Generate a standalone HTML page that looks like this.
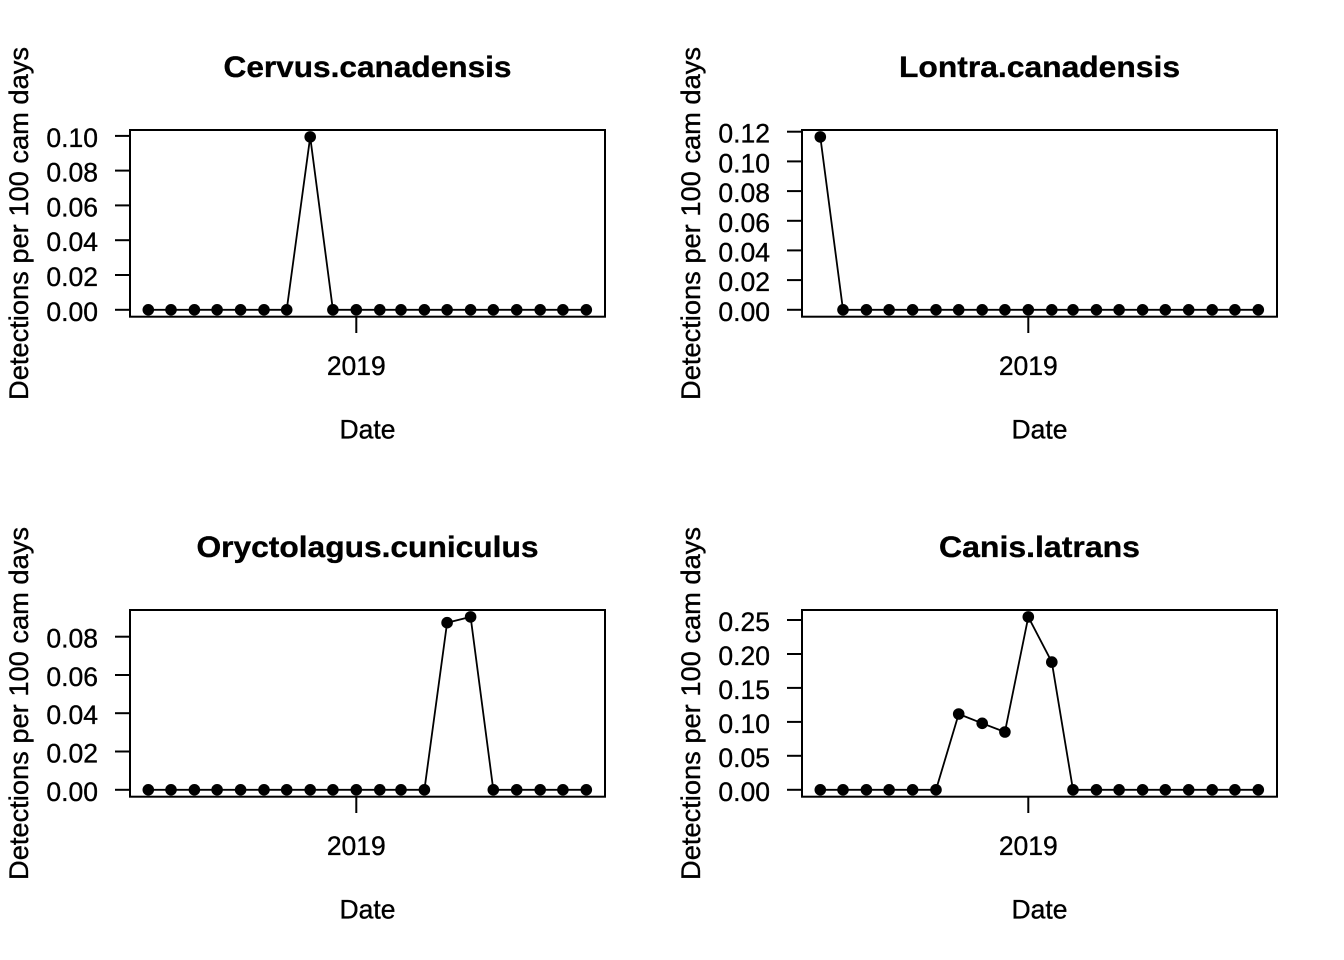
<!DOCTYPE html>
<html><head><meta charset="utf-8"><style>
html,body{margin:0;padding:0;background:#fff;}
svg{display:block;}
text{font-family:"Liberation Sans",Arial,sans-serif;fill:#000;stroke:#000;stroke-width:0.35;}
</style></head><body>
<svg width="1344" height="960" viewBox="0 0 1344 960" xmlns="http://www.w3.org/2000/svg">
<rect width="1344" height="960" fill="#fff"/>

<!-- Panel 1 -->
<g>
<text x="367.5" y="77" font-size="30" font-weight="bold" text-anchor="middle" textLength="288" lengthAdjust="spacingAndGlyphs">Cervus.canadensis</text>
<rect x="130" y="130" width="475" height="186.7" fill="none" stroke="#000" stroke-width="2"/>
<g stroke="#000" stroke-width="2">
<line x1="115" y1="309.8" x2="130" y2="309.8"/><line x1="115" y1="275.0" x2="130" y2="275.0"/><line x1="115" y1="240.2" x2="130" y2="240.2"/><line x1="115" y1="205.4" x2="130" y2="205.4"/><line x1="115" y1="170.6" x2="130" y2="170.6"/><line x1="115" y1="135.9" x2="130" y2="135.9"/>
<line x1="356.3" y1="316.7" x2="356.3" y2="333"/>
</g>
<g font-size="26.5" text-anchor="end">
<text x="98" y="320.8">0.00</text><text x="98" y="286">0.02</text><text x="98" y="251.2">0.04</text><text x="98" y="216.4">0.06</text><text x="98" y="181.6">0.08</text><text x="98" y="146.9">0.10</text>
</g>
<text x="356.3" y="375" font-size="26.5" text-anchor="middle">2019</text>
<text x="367.5" y="438.5" font-size="26.5" text-anchor="middle">Date</text>
<text transform="translate(28,223.5) rotate(-90)" font-size="26.5" text-anchor="middle" textLength="353" lengthAdjust="spacingAndGlyphs">Detections per 100 cam days</text>
<polyline fill="none" stroke="#000" stroke-width="1.8" points="148.3,309.8 171.0,309.8 194.4,309.8 217.1,309.8 240.6,309.8 264.0,309.8 286.7,309.8 310.2,136.9 332.9,309.8 356.3,309.8 379.8,309.8 401.0,309.8 424.4,309.8 447.1,309.8 470.6,309.8 493.3,309.8 516.7,309.8 540.2,309.8 562.9,309.8 586.3,309.8"/>
<g fill="#000">
<circle cx="148.3" cy="309.8" r="5.8"/><circle cx="171.0" cy="309.8" r="5.8"/><circle cx="194.4" cy="309.8" r="5.8"/><circle cx="217.1" cy="309.8" r="5.8"/><circle cx="240.6" cy="309.8" r="5.8"/><circle cx="264.0" cy="309.8" r="5.8"/><circle cx="286.7" cy="309.8" r="5.8"/><circle cx="310.2" cy="136.9" r="5.8"/><circle cx="332.9" cy="309.8" r="5.8"/><circle cx="356.3" cy="309.8" r="5.8"/><circle cx="379.8" cy="309.8" r="5.8"/><circle cx="401.0" cy="309.8" r="5.8"/><circle cx="424.4" cy="309.8" r="5.8"/><circle cx="447.1" cy="309.8" r="5.8"/><circle cx="470.6" cy="309.8" r="5.8"/><circle cx="493.3" cy="309.8" r="5.8"/><circle cx="516.7" cy="309.8" r="5.8"/><circle cx="540.2" cy="309.8" r="5.8"/><circle cx="562.9" cy="309.8" r="5.8"/><circle cx="586.3" cy="309.8" r="5.8"/>
</g>
</g>

<!-- Panel 2 -->
<g transform="translate(672,0)">
<text x="367.5" y="77" font-size="30" font-weight="bold" text-anchor="middle" textLength="281" lengthAdjust="spacingAndGlyphs">Lontra.canadensis</text>
<rect x="130" y="130" width="475" height="186.7" fill="none" stroke="#000" stroke-width="2"/>
<g stroke="#000" stroke-width="2">
<line x1="115" y1="309.8" x2="130" y2="309.8"/><line x1="115" y1="280.1" x2="130" y2="280.1"/><line x1="115" y1="250.4" x2="130" y2="250.4"/><line x1="115" y1="220.8" x2="130" y2="220.8"/><line x1="115" y1="191.1" x2="130" y2="191.1"/><line x1="115" y1="161.4" x2="130" y2="161.4"/><line x1="115" y1="131.7" x2="130" y2="131.7"/>
<line x1="356.3" y1="316.7" x2="356.3" y2="333"/>
</g>
<g font-size="26.5" text-anchor="end">
<text x="98" y="320.8">0.00</text><text x="98" y="291.1">0.02</text><text x="98" y="261.4">0.04</text><text x="98" y="231.8">0.06</text><text x="98" y="202.1">0.08</text><text x="98" y="172.4">0.10</text><text x="98" y="142.7">0.12</text>
</g>
<text x="356.3" y="375" font-size="26.5" text-anchor="middle">2019</text>
<text x="367.5" y="438.5" font-size="26.5" text-anchor="middle">Date</text>
<text transform="translate(28,223.5) rotate(-90)" font-size="26.5" text-anchor="middle" textLength="353" lengthAdjust="spacingAndGlyphs">Detections per 100 cam days</text>
<polyline fill="none" stroke="#000" stroke-width="1.8" points="148.3,136.9 171.0,309.8 194.4,309.8 217.1,309.8 240.6,309.8 264.0,309.8 286.7,309.8 310.2,309.8 332.9,309.8 356.3,309.8 379.8,309.8 401.0,309.8 424.4,309.8 447.1,309.8 470.6,309.8 493.3,309.8 516.7,309.8 540.2,309.8 562.9,309.8 586.3,309.8"/>
<g fill="#000">
<circle cx="148.3" cy="136.9" r="5.8"/><circle cx="171.0" cy="309.8" r="5.8"/><circle cx="194.4" cy="309.8" r="5.8"/><circle cx="217.1" cy="309.8" r="5.8"/><circle cx="240.6" cy="309.8" r="5.8"/><circle cx="264.0" cy="309.8" r="5.8"/><circle cx="286.7" cy="309.8" r="5.8"/><circle cx="310.2" cy="309.8" r="5.8"/><circle cx="332.9" cy="309.8" r="5.8"/><circle cx="356.3" cy="309.8" r="5.8"/><circle cx="379.8" cy="309.8" r="5.8"/><circle cx="401.0" cy="309.8" r="5.8"/><circle cx="424.4" cy="309.8" r="5.8"/><circle cx="447.1" cy="309.8" r="5.8"/><circle cx="470.6" cy="309.8" r="5.8"/><circle cx="493.3" cy="309.8" r="5.8"/><circle cx="516.7" cy="309.8" r="5.8"/><circle cx="540.2" cy="309.8" r="5.8"/><circle cx="562.9" cy="309.8" r="5.8"/><circle cx="586.3" cy="309.8" r="5.8"/>
</g>
</g>

<!-- Panel 3 -->
<g transform="translate(0,480)">
<text x="367.5" y="77" font-size="30" font-weight="bold" text-anchor="middle" textLength="342" lengthAdjust="spacingAndGlyphs">Oryctolagus.cuniculus</text>
<rect x="130" y="130" width="475" height="186.7" fill="none" stroke="#000" stroke-width="2"/>
<g stroke="#000" stroke-width="2">
<line x1="115" y1="309.8" x2="130" y2="309.8"/><line x1="115" y1="271.5" x2="130" y2="271.5"/><line x1="115" y1="233.2" x2="130" y2="233.2"/><line x1="115" y1="195.0" x2="130" y2="195.0"/><line x1="115" y1="156.7" x2="130" y2="156.7"/>
<line x1="356.3" y1="316.7" x2="356.3" y2="333"/>
</g>
<g font-size="26.5" text-anchor="end">
<text x="98" y="320.8">0.00</text><text x="98" y="282.5">0.02</text><text x="98" y="244.2">0.04</text><text x="98" y="206">0.06</text><text x="98" y="167.7">0.08</text>
</g>
<text x="356.3" y="375" font-size="26.5" text-anchor="middle">2019</text>
<text x="367.5" y="438.5" font-size="26.5" text-anchor="middle">Date</text>
<text transform="translate(28,223.5) rotate(-90)" font-size="26.5" text-anchor="middle" textLength="353" lengthAdjust="spacingAndGlyphs">Detections per 100 cam days</text>
<polyline fill="none" stroke="#000" stroke-width="1.8" points="148.3,309.8 171.0,309.8 194.4,309.8 217.1,309.8 240.6,309.8 264.0,309.8 286.7,309.8 310.2,309.8 332.9,309.8 356.3,309.8 379.8,309.8 401.0,309.8 424.4,309.8 447.1,142.7 470.6,136.9 493.3,309.8 516.7,309.8 540.2,309.8 562.9,309.8 586.3,309.8"/>
<g fill="#000">
<circle cx="148.3" cy="309.8" r="5.8"/><circle cx="171.0" cy="309.8" r="5.8"/><circle cx="194.4" cy="309.8" r="5.8"/><circle cx="217.1" cy="309.8" r="5.8"/><circle cx="240.6" cy="309.8" r="5.8"/><circle cx="264.0" cy="309.8" r="5.8"/><circle cx="286.7" cy="309.8" r="5.8"/><circle cx="310.2" cy="309.8" r="5.8"/><circle cx="332.9" cy="309.8" r="5.8"/><circle cx="356.3" cy="309.8" r="5.8"/><circle cx="379.8" cy="309.8" r="5.8"/><circle cx="401.0" cy="309.8" r="5.8"/><circle cx="424.4" cy="309.8" r="5.8"/><circle cx="447.1" cy="142.7" r="5.8"/><circle cx="470.6" cy="136.9" r="5.8"/><circle cx="493.3" cy="309.8" r="5.8"/><circle cx="516.7" cy="309.8" r="5.8"/><circle cx="540.2" cy="309.8" r="5.8"/><circle cx="562.9" cy="309.8" r="5.8"/><circle cx="586.3" cy="309.8" r="5.8"/>
</g>
</g>

<!-- Panel 4 -->
<g transform="translate(672,480)">
<text x="367.5" y="77" font-size="30" font-weight="bold" text-anchor="middle" textLength="201" lengthAdjust="spacingAndGlyphs">Canis.latrans</text>
<rect x="130" y="130" width="475" height="186.7" fill="none" stroke="#000" stroke-width="2"/>
<g stroke="#000" stroke-width="2">
<line x1="115" y1="309.8" x2="130" y2="309.8"/><line x1="115" y1="275.8" x2="130" y2="275.8"/><line x1="115" y1="241.9" x2="130" y2="241.9"/><line x1="115" y1="207.9" x2="130" y2="207.9"/><line x1="115" y1="174.0" x2="130" y2="174.0"/><line x1="115" y1="140.0" x2="130" y2="140.0"/>
<line x1="356.3" y1="316.7" x2="356.3" y2="333"/>
</g>
<g font-size="26.5" text-anchor="end">
<text x="98" y="320.8">0.00</text><text x="98" y="286.8">0.05</text><text x="98" y="252.9">0.10</text><text x="98" y="218.9">0.15</text><text x="98" y="185">0.20</text><text x="98" y="151">0.25</text>
</g>
<text x="356.3" y="375" font-size="26.5" text-anchor="middle">2019</text>
<text x="367.5" y="438.5" font-size="26.5" text-anchor="middle">Date</text>
<text transform="translate(28,223.5) rotate(-90)" font-size="26.5" text-anchor="middle" textLength="353" lengthAdjust="spacingAndGlyphs">Detections per 100 cam days</text>
<polyline fill="none" stroke="#000" stroke-width="1.8" points="148.3,309.8 171.0,309.8 194.4,309.8 217.1,309.8 240.6,309.8 264.0,309.8 286.7,234.0 310.2,243.3 332.9,252.0 356.3,136.9 379.8,182.1 401.0,309.8 424.4,309.8 447.1,309.8 470.6,309.8 493.3,309.8 516.7,309.8 540.2,309.8 562.9,309.8 586.3,309.8"/>
<g fill="#000">
<circle cx="148.3" cy="309.8" r="5.8"/><circle cx="171.0" cy="309.8" r="5.8"/><circle cx="194.4" cy="309.8" r="5.8"/><circle cx="217.1" cy="309.8" r="5.8"/><circle cx="240.6" cy="309.8" r="5.8"/><circle cx="264.0" cy="309.8" r="5.8"/><circle cx="286.7" cy="234.0" r="5.8"/><circle cx="310.2" cy="243.3" r="5.8"/><circle cx="332.9" cy="252.0" r="5.8"/><circle cx="356.3" cy="136.9" r="5.8"/><circle cx="379.8" cy="182.1" r="5.8"/><circle cx="401.0" cy="309.8" r="5.8"/><circle cx="424.4" cy="309.8" r="5.8"/><circle cx="447.1" cy="309.8" r="5.8"/><circle cx="470.6" cy="309.8" r="5.8"/><circle cx="493.3" cy="309.8" r="5.8"/><circle cx="516.7" cy="309.8" r="5.8"/><circle cx="540.2" cy="309.8" r="5.8"/><circle cx="562.9" cy="309.8" r="5.8"/><circle cx="586.3" cy="309.8" r="5.8"/>
</g>
</g>
</svg>
</body></html>
